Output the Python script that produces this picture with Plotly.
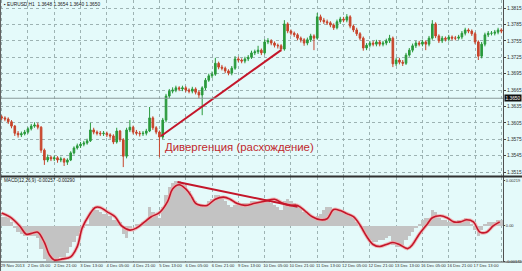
import plotly.graph_objects as go

# ---------------- data ----------------
opens = [1.3616, 1.3614, 1.3612, 1.3607, 1.3599, 1.3586, 1.3583, 1.3585, 1.3588, 1.3594,
         1.3599, 1.3601, 1.3597, 1.3555, 1.3537, 1.3542, 1.3539, 1.3541, 1.3537, 1.3539,
         1.3533, 1.3537, 1.3550, 1.3559, 1.3563, 1.3566, 1.3568, 1.3572, 1.3592, 1.3588,
         1.3586, 1.3585, 1.3586, 1.3583, 1.3581, 1.3570, 1.3590, 1.3574, 1.3544, 1.3592,
         1.3597, 1.3588, 1.3586, 1.3585, 1.3586, 1.3590, 1.3614, 1.3596, 1.3588, 1.3579,
         1.3610, 1.3654, 1.3663, 1.3665, 1.3669, 1.3667, 1.3669, 1.3665, 1.3663, 1.3667,
         1.3661, 1.3656, 1.3669, 1.3683, 1.3691, 1.3694, 1.3714, 1.3707, 1.3705, 1.3700,
         1.3696, 1.3705, 1.3722, 1.3720, 1.3718, 1.3722, 1.3725, 1.3733, 1.3735, 1.3738,
         1.3733, 1.3753, 1.3755, 1.3751, 1.3747, 1.3746, 1.3740, 1.3786, 1.3773, 1.3769,
         1.3766, 1.3760, 1.3757, 1.3751, 1.3757, 1.3764, 1.3760, 1.3799, 1.3793, 1.3790,
         1.3788, 1.3784, 1.3779, 1.3790, 1.3795, 1.3793, 1.3799, 1.3782, 1.3775, 1.3768,
         1.3760, 1.3742, 1.3747, 1.3751, 1.3749, 1.3753, 1.3749, 1.3751, 1.3755, 1.3760,
         1.3713, 1.3720, 1.3716, 1.3714, 1.3729, 1.3738, 1.3746, 1.3751, 1.3749, 1.3753,
         1.3749, 1.3760, 1.3786, 1.3764, 1.3755, 1.3760, 1.3758, 1.3762, 1.3760, 1.3760,
         1.3762, 1.3769, 1.3775, 1.3773, 1.3768, 1.3753, 1.3727, 1.3749, 1.3766, 1.3769,
         1.3769, 1.3771, 1.3775]
highs = [1.3619, 1.3617, 1.3615, 1.3610, 1.3601, 1.3590, 1.3589, 1.3592, 1.3597, 1.3603,
         1.3606, 1.3605, 1.3599, 1.3558, 1.3547, 1.3545, 1.3545, 1.3544, 1.3543, 1.3541,
         1.3540, 1.3553, 1.3562, 1.3567, 1.3570, 1.3572, 1.3576, 1.3605, 1.3596, 1.3591,
         1.3590, 1.3590, 1.3589, 1.3586, 1.3584, 1.3596, 1.3592, 1.3577, 1.3596, 1.3610,
         1.3600, 1.3592, 1.3590, 1.3590, 1.3594, 1.3634, 1.3617, 1.3599, 1.3591, 1.3614,
         1.3658, 1.3667, 1.3670, 1.3673, 1.3672, 1.3673, 1.3672, 1.3668, 1.3671, 1.3670,
         1.3664, 1.3672, 1.3687, 1.3695, 1.3699, 1.3724, 1.3717, 1.3711, 1.3708, 1.3703,
         1.3709, 1.3727, 1.3726, 1.3723, 1.3726, 1.3729, 1.3737, 1.3739, 1.3746, 1.3741,
         1.3758, 1.3760, 1.3758, 1.3754, 1.3750, 1.3749, 1.3793, 1.3789, 1.3776, 1.3772,
         1.3769, 1.3763, 1.3760, 1.3761, 1.3768, 1.3767, 1.3806, 1.3803, 1.3797, 1.3794,
         1.3791, 1.3787, 1.3794, 1.3799, 1.3799, 1.3804, 1.3802, 1.3785, 1.3779, 1.3771,
         1.3763, 1.3751, 1.3755, 1.3755, 1.3757, 1.3756, 1.3755, 1.3759, 1.3766, 1.3763,
         1.3724, 1.3724, 1.3720, 1.3733, 1.3742, 1.3750, 1.3755, 1.3755, 1.3757, 1.3756,
         1.3764, 1.3793, 1.3789, 1.3767, 1.3764, 1.3763, 1.3766, 1.3765, 1.3764, 1.3766,
         1.3773, 1.3779, 1.3778, 1.3776, 1.3771, 1.3756, 1.3753, 1.3770, 1.3773, 1.3773,
         1.3775, 1.3779, 1.3778]
lows = [1.3610, 1.3608, 1.3603, 1.3595, 1.3581, 1.3578, 1.3579, 1.3582, 1.3585, 1.3591,
        1.3596, 1.3593, 1.3550, 1.3528, 1.3533, 1.3535, 1.3535, 1.3532, 1.3533, 1.3526,
        1.3528, 1.3535, 1.3547, 1.3556, 1.3559, 1.3562, 1.3565, 1.3570, 1.3584, 1.3582,
        1.3581, 1.3581, 1.3579, 1.3576, 1.3566, 1.3567, 1.3570, 1.3524, 1.3540, 1.3588,
        1.3584, 1.3582, 1.3580, 1.3581, 1.3582, 1.3588, 1.3592, 1.3584, 1.3542, 1.3575,
        1.3606, 1.3650, 1.3659, 1.3661, 1.3663, 1.3663, 1.3661, 1.3659, 1.3659, 1.3657,
        1.3650, 1.3619, 1.3665, 1.3680, 1.3687, 1.3691, 1.3703, 1.3701, 1.3696, 1.3692,
        1.3692, 1.3702, 1.3716, 1.3714, 1.3714, 1.3718, 1.3722, 1.3729, 1.3731, 1.3729,
        1.3730, 1.3749, 1.3747, 1.3743, 1.3741, 1.3736, 1.3737, 1.3769, 1.3765, 1.3762,
        1.3756, 1.3752, 1.3746, 1.3747, 1.3753, 1.3738, 1.3757, 1.3789, 1.3786, 1.3784,
        1.3780, 1.3775, 1.3776, 1.3786, 1.3789, 1.3789, 1.3778, 1.3771, 1.3764, 1.3756,
        1.3737, 1.3738, 1.3743, 1.3745, 1.3745, 1.3745, 1.3745, 1.3747, 1.3751, 1.3707,
        1.3709, 1.3712, 1.3709, 1.3711, 1.3726, 1.3734, 1.3742, 1.3745, 1.3745, 1.3738,
        1.3745, 1.3757, 1.3760, 1.3751, 1.3751, 1.3754, 1.3754, 1.3756, 1.3756, 1.3757,
        1.3758, 1.3765, 1.3769, 1.3764, 1.3749, 1.3720, 1.3723, 1.3745, 1.3762, 1.3765,
        1.3765, 1.3767, 1.3769]
closes = [1.3614, 1.3612, 1.3607, 1.3599, 1.3586, 1.3583, 1.3585, 1.3588, 1.3594, 1.3599,
          1.3601, 1.3597, 1.3555, 1.3537, 1.3542, 1.3539, 1.3541, 1.3537, 1.3539, 1.3533,
          1.3537, 1.3550, 1.3559, 1.3563, 1.3566, 1.3568, 1.3572, 1.3592, 1.3588, 1.3586,
          1.3585, 1.3586, 1.3583, 1.3581, 1.3570, 1.3590, 1.3574, 1.3544, 1.3592, 1.3597,
          1.3588, 1.3586, 1.3585, 1.3586, 1.3590, 1.3614, 1.3596, 1.3588, 1.3579, 1.3610,
          1.3654, 1.3663, 1.3665, 1.3669, 1.3667, 1.3669, 1.3665, 1.3663, 1.3667, 1.3661,
          1.3656, 1.3669, 1.3683, 1.3691, 1.3694, 1.3714, 1.3707, 1.3705, 1.3700, 1.3696,
          1.3705, 1.3722, 1.3720, 1.3718, 1.3722, 1.3725, 1.3733, 1.3735, 1.3738, 1.3733,
          1.3753, 1.3755, 1.3751, 1.3747, 1.3746, 1.3740, 1.3786, 1.3773, 1.3769, 1.3766,
          1.3760, 1.3757, 1.3751, 1.3757, 1.3764, 1.3760, 1.3799, 1.3793, 1.3790, 1.3788,
          1.3784, 1.3779, 1.3790, 1.3795, 1.3793, 1.3799, 1.3782, 1.3775, 1.3768, 1.3760,
          1.3742, 1.3747, 1.3751, 1.3749, 1.3753, 1.3749, 1.3751, 1.3755, 1.3760, 1.3713,
          1.3720, 1.3716, 1.3714, 1.3729, 1.3738, 1.3746, 1.3751, 1.3749, 1.3753, 1.3749,
          1.3760, 1.3786, 1.3764, 1.3755, 1.3760, 1.3758, 1.3762, 1.3760, 1.3760, 1.3762,
          1.3769, 1.3775, 1.3773, 1.3768, 1.3753, 1.3727, 1.3749, 1.3766, 1.3769, 1.3769,
          1.3771, 1.3775, 1.3773]

macd_hist = [0.00045, 0.00045, 0.0004, 0.0002, -0.0001, -0.0003, -0.0004, -0.0005, -0.0005, -0.0005,
             -0.0005, -0.0006, -0.0011, -0.0016, -0.0017, -0.0017, -0.0016, -0.0016, -0.0015, -0.0015,
             -0.0013, -0.0010, -0.0008, -0.0005, -0.0003, -0.0001, 0.0001, 0.0007, 0.0009, 0.0008,
             0.0007, 0.0006, 0.0006, 0.0005, 0.0003, 0.0003, 0.0002, -0.0004, -0.0006, -0.0001,
             0.0000, 0.0001, 0.0001, 0.0002, 0.0003, 0.0009, 0.0007, 0.0005, 0.0004, 0.0009,
             0.0015, 0.0019, 0.0021, 0.0022, 0.0022, 0.0021, 0.0020, 0.0017, 0.0014, 0.0012,
             0.0010, 0.0009, 0.0010, 0.0012, 0.0013, 0.0015, 0.0015, 0.0014, 0.0012, 0.0010,
             0.0009, 0.0010, 0.0011, 0.0011, 0.0011, 0.0011, 0.0012, 0.0012, 0.0012, 0.0011,
             0.0012, 0.0012, 0.0011, 0.0010, 0.0009, 0.0008, 0.0012, 0.0013, 0.0012, 0.0011,
             0.0010, 0.0009, 0.0007, 0.0006, 0.0005, 0.0004, 0.0005, 0.0006, 0.0008, 0.0009,
             0.0009, 0.0008, 0.0008, 0.0008, 0.0007, 0.0007, 0.0006, 0.0004, 0.0002, 0.0000,
             -0.0003, -0.0005, -0.0007, -0.0008, -0.0008, -0.0007, -0.0007, -0.0006, -0.0005, -0.0009,
             -0.0010, -0.0010, -0.0009, -0.0007, -0.0005, -0.0003, -0.0001, 0.0001, 0.0003, 0.0004,
             0.0004, 0.0008, 0.0007, 0.0004, 0.0003, 0.0003, 0.0002, 0.0002, 0.0002, 0.0003,
             0.0003, 0.0004, 0.0003, 0.0001, -0.0002, -0.0005, -0.0002, 0.0001, 0.0002, 0.0002,
             0.0002, 0.0003, 0.0003]

signal_hours = [0, 5, 11, 15, 19, 22, 26, 29, 32, 37, 42, 46, 49, 53, 57, 60, 64, 69, 73, 78,
                82, 87, 91, 96, 101, 104, 108, 112, 115, 118, 121, 125, 130, 135, 139, 143, 148,
                154, 160, 166, 171, 175, 180, 185, 189, 194, 198, 202, 206, 210, 214, 218, 222,
                226, 230, 234, 238, 242, 247, 250, 254, 259, 262, 267, 271, 275, 279, 283, 287,
                291, 295, 299, 303]
signal_values = [0.00063, 0.00044, 0.0, -0.0004, -0.00034, -0.0003, -0.0008, -0.0014,
                 -0.00165, -0.0016, -0.0015, -0.0010, -0.0001, 0.0005, 0.0009, 0.0009, 0.0007,
                 0.00045, 0.0, -0.0002, -0.0001, 0.0002, 0.00045, 0.00065, 0.0012, 0.0018,
                 0.0020, 0.0018, 0.0015, 0.0011, 0.0010, 0.0010, 0.0013, 0.0014, 0.0013, 0.0011,
                 0.0010, 0.0011, 0.0012, 0.0013, 0.0011, 0.0010, 0.0010, 0.0007, 0.00045, 0.0003,
                 0.00035, 0.0008, 0.00075, 0.0006, 0.00045, 0.00005, -0.0005, -0.0009, -0.0010,
                 -0.0009, -0.0008, -0.0009, -0.0011, -0.0009, -0.0004, 0.0001, 0.0004, 0.0005,
                 0.0004, 0.0002, 0.0002, 0.0003, 0.0002, -0.0003, -0.0003, 0.0, 0.0002]

tick_labels = ["29 Nov 2013", "2 Dec 05:00", "2 Dec 21:00", "3 Dec 13:00", "4 Dec 05:00",
               "4 Dec 21:00", "5 Dec 13:00", "6 Dec 05:00", "6 Dec 21:00", "9 Dec 13:00",
               "10 Dec 05:00", "10 Dec 21:00", "11 Dec 13:00", "12 Dec 05:00", "12 Dec 21:00",
               "13 Dec 13:00", "16 Dec 05:00", "16 Dec 21:00", "17 Dec 13:00", "18 Dec 05:00"]
price_ticks = [1.3515, 1.3545, 1.3575, 1.3605, 1.3635, 1.3665, 1.3695, 1.3725, 1.3755, 1.3785, 1.3815]
price_tick_text = ["1.3515", "1.3545", "1.3575", "1.3605", "1.3635", "1.3665", "1.3695",
                   "1.3725", "1.3755", "1.3785", "1.3815"]
macd_ticks = [-0.00172, 0.0, 0.00219]
macd_tick_text = ["-0.00172", "0.00", "0.00219"]
bid_price = 1.3650
bid_text = "1.3650"

price_trend_hours = [97, 170]
price_trend_values = [1.3581, 1.3738]
macd_trend_hours = [107, 180]
macd_trend_values = [0.00214, 0.00093]

label_hour = 98
label_price = 1.3561
label_text = "Дивергенция (расхождение)"
header_text = "▪ EURUSD,H1  1.3648 1.3654 1.3640 1.3650"
macd_text = "MACD(12,26,9) -0.00257 -0.00290"

bar_hours = [2 * i for i in range(len(closes))]
tick_hours = [16 * i for i in range(len(tick_labels))]

# ---------------- styling ----------------
W, H = 522, 271
XD = 503 / W
BG = "#e4fafa"
GRID = "#9db3b3"
UP = "#2a9a3c"
DOWN = "#c8452c"
RED = "#c4162a"
FONT = "Liberation Sans, Arial, sans-serif"
AXF = dict(family=FONT, size=4.8, color="#303030")
XF = dict(family=FONT, size=4.2, color="#303030")
MF = dict(family=FONT, size=4.0, color="#303030")

def py(px):
    return 1 - px / H

fig = go.Figure()

fig.add_trace(go.Candlestick(
    x=bar_hours, open=opens, high=highs, low=lows, close=closes,
    xaxis="x", yaxis="y",
    increasing=dict(line=dict(color=UP, width=1), fillcolor=UP),
    decreasing=dict(line=dict(color=DOWN, width=1), fillcolor=DOWN),
    whiskerwidth=0, showlegend=False, hoverinfo="skip",
))

fig.add_trace(go.Scatter(x=price_trend_hours, y=price_trend_values, mode="lines",
                         line=dict(color=RED, width=2), xaxis="x", yaxis="y",
                         showlegend=False, hoverinfo="skip"))

fig.add_trace(go.Bar(x=bar_hours, y=macd_hist, marker=dict(color="#c3c3c3", line=dict(width=0)),
                     xaxis="x2", yaxis="y2", showlegend=False, hoverinfo="skip"))

fig.add_trace(go.Scatter(x=signal_hours, y=signal_values, mode="lines",
                         line=dict(color="rgba(240,170,170,0.8)", width=3.5, shape="spline"),
                         xaxis="x2", yaxis="y2", showlegend=False, hoverinfo="skip"))
fig.add_trace(go.Scatter(x=signal_hours, y=signal_values, mode="lines",
                         line=dict(color=RED, width=1.6, shape="spline"),
                         xaxis="x2", yaxis="y2", showlegend=False, hoverinfo="skip"))
fig.add_trace(go.Scatter(x=macd_trend_hours, y=macd_trend_values, mode="lines",
                         line=dict(color=RED, width=2), xaxis="x2", yaxis="y2",
                         showlegend=False, hoverinfo="skip"))

xr = [-1, 305]
common_x = dict(range=xr, domain=[0, XD], tickmode="array", tickvals=tick_hours,
                showgrid=True, gridcolor=GRID, griddash="dot", gridwidth=1,
                zeroline=False, showline=False, fixedrange=True)

fig.update_layout(
    width=W, height=H, margin=dict(l=0, r=0, t=0, b=0),
    paper_bgcolor=BG, plot_bgcolor=BG, template="none",
    bargap=0, showlegend=False, font=dict(family=FONT),
    xaxis=dict(**common_x, anchor="y", showticklabels=False, ticks="",
               rangeslider=dict(visible=False)),
    xaxis2=dict(**common_x, anchor="y2", ticktext=tick_labels, showticklabels=True,
                ticks="", ticklen=0, tickangle=0, tickfont=XF,
                ticklabelshift=11, ticklabelstandoff=0),
    yaxis=dict(domain=[py(176), 1], range=[1.35077, 1.38298], side="right", anchor="x",
               tickmode="array", tickvals=price_ticks, ticktext=price_tick_text,
               tickfont=AXF, ticks="outside", ticklen=2, tickcolor="#404040",
               showgrid=True, gridcolor=GRID, griddash="dot", zeroline=False,
               showline=True, linecolor="#505050", linewidth=1, fixedrange=True),
    yaxis2=dict(domain=[py(262), py(177)], range=[-0.00175, 0.00238], side="right", anchor="x2",
                tickmode="array", tickvals=macd_ticks, ticktext=macd_tick_text,
                tickfont=MF, ticks="outside", ticklen=1, tickcolor="#404040",
                showgrid=False, zeroline=False,
                showline=True, linecolor="#505050", linewidth=1, fixedrange=True),
)

shapes = [
    dict(type="line", xref="paper", yref="y", x0=0, x1=XD, y0=bid_price, y1=bid_price,
         line=dict(color="#8a9a9a", width=1)),
    dict(type="line", xref="paper", yref="paper", x0=0, x1=1, y0=py(176.5), y1=py(176.5),
         line=dict(color="#303030", width=2)),
    dict(type="line", xref="paper", yref="paper", x0=0, x1=1, y0=py(262), y1=py(262),
         line=dict(color="#505050", width=1)),
    dict(type="line", xref="paper", yref="paper", x0=0.001, x1=0.001, y0=0, y1=1,
         line=dict(color="#606060", width=1)),
]
fig.update_layout(shapes=shapes)

annotations = [
    dict(x=label_hour, y=label_price, xref="x", yref="y", text=label_text, showarrow=False,
         xanchor="left", yanchor="middle", font=dict(family=FONT, size=11.4, color="#c0282d")),
    dict(x=0.004, y=py(5), xref="paper", yref="paper", text=header_text, showarrow=False,
         xanchor="left", yanchor="middle", font=dict(family=FONT, size=4.8, color="#202020")),
    dict(x=0.003, y=py(181), xref="paper", yref="paper", text=macd_text, showarrow=False,
         xanchor="left", yanchor="middle", font=dict(family=FONT, size=4.6, color="#202020")),
    dict(x=XD + 0.002, y=bid_price, xref="paper", yref="y", text=bid_text, showarrow=False,
         xanchor="left", yanchor="middle", bgcolor="#101010", borderpad=0.5,
         font=dict(family=FONT, size=4.8, color="#ffffff")),
]
fig.update_layout(annotations=annotations)

fig.write_html("out.html")
